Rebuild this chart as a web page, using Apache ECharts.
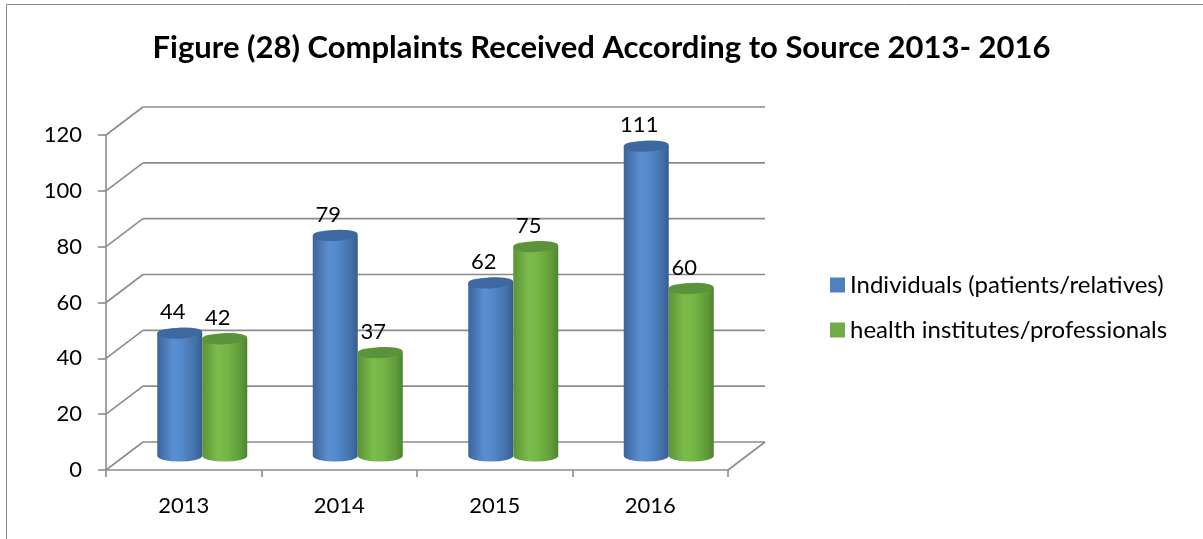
<!DOCTYPE html>
<html>
<head>
<meta charset="utf-8">
<script src="https://cdn.jsdelivr.net/npm/echarts@6/dist/echarts.min.js"></script>
<style>
  html, body { margin: 0; padding: 0; background: #fff; }
  #chart { width: 1203px; height: 539px; }
</style>
</head>
<body>
<div id="chart"></div>
<script>
// chart data
const years = ['2013', '2014', '2015', '2016'];
const individuals = [44, 79, 62, 111];
const institutes = [42, 37, 75, 60];
const yTicks = [0, 20, 40, 60, 80, 100, 120];
const seriesNames = ['Individuals (patients/relatives)', 'health institutes/professionals'];

// 3d look: depth offset of the back wall
const DX = 37, DY = -28;
const RX = 22.5, RY = 5.5;
const FONT = 'Lato';
const GRID_COLOR = '#8c8c8c';

const palette = {
  blue: { side: ['#3b659c', '#5a8ed0', '#5389cb', '#4470a8', '#365d90'], top: '#3e689f', legend: '#4f81bd' },
  green: { side: ['#5b9436', '#7dbc4c', '#76b646', '#5f9b39', '#4d8430'], top: '#5b933a', legend: '#70ad47' }
};

function ellipsePath(cx, cy, rx, ry) {
  return 'M' + (cx - rx) + ',' + cy +
    ' A' + rx + ',' + ry + ' 0 1 0 ' + (cx + rx) + ',' + cy +
    ' A' + rx + ',' + ry + ' 0 1 0 ' + (cx - rx) + ',' + cy + ' Z';
}

function cylinder(side, colors) {
  return function (params, api) {
    const cat = api.value(0), val = api.value(1);
    const base = api.coord([cat, 0]);
    const top = api.coord([cat, val]);
    const cx = base[0] + DX / 2 + side * RX;
    const yb = base[1] + DY / 2;
    const yt = top[1] + DY / 2;
    const xl = cx - RX, xr = cx + RX;
    const body = 'M' + xl + ',' + yt + ' L' + xl + ',' + yb +
      ' A' + RX + ',' + RY + ' 0 0 0 ' + xr + ',' + yb +
      ' L' + xr + ',' + yt +
      ' A' + RX + ',' + RY + ' 0 0 0 ' + xl + ',' + yt + ' Z';
    const grad = new echarts.graphic.LinearGradient(0, 0, 1, 0, [
      { offset: 0, color: colors.side[0] },
      { offset: 0.35, color: colors.side[1] },
      { offset: 0.55, color: colors.side[2] },
      { offset: 0.85, color: colors.side[3] },
      { offset: 1, color: colors.side[4] }
    ]);
    return {
      type: 'group',
      children: [
        { type: 'path', shape: { pathData: body }, style: { fill: grad } },
        {
          type: 'path', shape: { pathData: ellipsePath(cx, yt, RX, RY) },
          rotation: 0.06, originX: cx, originY: yt,
          style: { fill: colors.top }
        },
        {
          type: 'text', x: cx - 7, y: yt - 21,
          style: { text: String(val), fill: '#000', fontSize: 22, fontFamily: FONT, align: 'center', verticalAlign: 'middle' }
        }
      ]
    };
  };
}

function wallLines(params, api) {
  const v = api.value(1);
  const p = api.coord([0, v]);
  const x0 = params.coordSys.x, w = params.coordSys.width;
  const ls = { stroke: GRID_COLOR, lineWidth: 1.6 };
  const kids = [
    { type: 'line', shape: { x1: x0, y1: p[1], x2: x0 + DX, y2: p[1] + DY }, style: ls },
    { type: 'line', shape: { x1: x0 + DX, y1: p[1] + DY, x2: x0 + w + DX, y2: p[1] + DY }, style: ls }
  ];
  if (v === 0) {
    kids.push({ type: 'line', shape: { x1: x0 + w, y1: p[1], x2: x0 + w + DX, y2: p[1] + DY }, style: ls });
  }
  return { type: 'group', children: kids };
}

const chart = echarts.init(document.getElementById('chart'));
chart.setOption({
  animation: false,
  backgroundColor: '#fff',
  title: {
    text: 'Figure (28) Complaints Received According to Source 2013- 2016',
    left: 'center', top: 27,
    textStyle: { fontFamily: FONT, fontSize: 31, fontWeight: 'bold', color: '#000' }
  },
  graphic: [{
    type: 'rect', shape: { x: 6.5, y: 4.5, width: 1300, height: 700 },
    style: { fill: 'none', stroke: '#8a8a8a', lineWidth: 1 }, silent: true
  }],
  legend: {
    orient: 'vertical', left: 825, top: 268,
    itemWidth: 15, itemHeight: 15, itemGap: 21,
    icon: 'rect',
    data: seriesNames,
    textStyle: { fontFamily: FONT, fontSize: 24, color: '#000', padding: [0, 0, 0, 0] }
  },
  grid: { left: 106, top: 135, width: 622, height: 335 },
  xAxis: {
    type: 'category', data: years,
    axisLine: { lineStyle: { color: GRID_COLOR, width: 1.6 } },
    axisTick: { show: true, length: 7, lineStyle: { color: GRID_COLOR, width: 1.6 } },
    axisLabel: { fontFamily: FONT, fontSize: 22, color: '#000', margin: 25 }
  },
  yAxis: {
    type: 'value', min: 0, max: 120, interval: 20,
    axisLine: { show: true, lineStyle: { color: GRID_COLOR, width: 1.6 } },
    axisTick: { show: true, length: 8, lineStyle: { color: GRID_COLOR, width: 1.6 } },
    splitLine: { show: false },
    axisLabel: { fontFamily: FONT, fontSize: 22, color: '#000', margin: 24 }
  },
  series: [
    {
      type: 'custom', name: 'wall', z: 1, silent: true,
      renderItem: wallLines,
      data: yTicks.map(v => [0, v])
    },
    {
      type: 'custom', name: seriesNames[0], z: 3,
      itemStyle: { color: palette.blue.legend },
      renderItem: cylinder(-1, palette.blue),
      data: individuals.map((v, i) => [i, v])
    },
    {
      type: 'custom', name: seriesNames[1], z: 3,
      itemStyle: { color: palette.green.legend },
      renderItem: cylinder(1, palette.green),
      data: institutes.map((v, i) => [i, v])
    }
  ]
});
</script>
</body>
</html>
